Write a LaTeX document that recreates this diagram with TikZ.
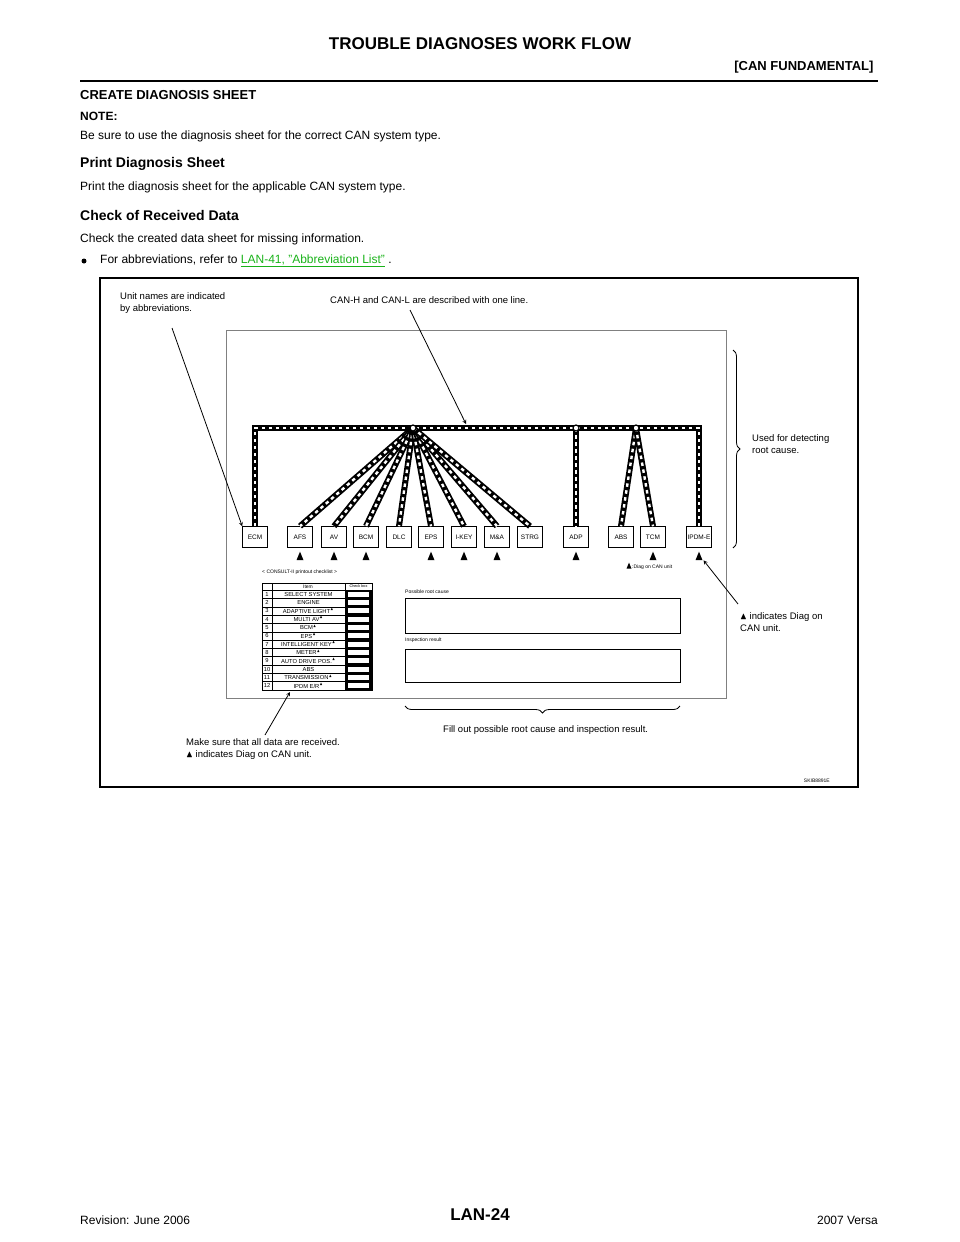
\documentclass[tikz,border=0pt]{standalone}
\usepackage{amssymb}
\usepackage{fontspec}
\setmainfont{Liberation Sans}
\usetikzlibrary{decorations.pathreplacing}
\definecolor{linkgreen}{rgb}{0.1,0.7,0.1}
\tikzset{
  canbus/.style={line width=6pt,draw=black,postaction={draw=white,line width=2.4pt,dash pattern=on 3.5pt off 3.5pt}},
  unit/.style={draw,line width=0.6pt,minimum width=25pt,minimum height=21pt,inner sep=0pt,font=\fontsize{6.5}{6.5}\selectfont},
  hub/.style={circle,draw,fill=white,line width=1.2pt,inner sep=0pt,minimum size=6pt},
  diag/.style={fill=black,isosceles triangle,shape border rotate=90,inner sep=0pt,minimum width=7pt,minimum height=6pt},
  note/.style={align=left,anchor=north west,font=\fontsize{9.5}{12}\selectfont,inner sep=0pt},
  tiny/.style={font=\fontsize{5}{5}\selectfont,inner sep=0pt},
  leader/.style={line width=0.8pt},
}
\usetikzlibrary{shapes.geometric}
\begin{document}
\begin{tikzpicture}[x=1pt,y=-1pt]
\useasboundingbox (0,0) rectangle (960,1242);
% header
\node[font=\bfseries\fontsize{17}{17}\selectfont] (title) at (480,44) {TROUBLE DIAGNOSES WORK FLOW};
\node[font=\bfseries\fontsize{13}{13}\selectfont,anchor=east] (sect) at (877,67) {[CAN FUNDAMENTAL]};
\draw[line width=2pt] (80,81) -- (878,81);
\node[anchor=west,inner sep=0pt,font=\bfseries\fontsize{13}{13}\selectfont] at (80,95) {CREATE DIAGNOSIS SHEET};
\node[anchor=west,inner sep=0pt,font=\bfseries\fontsize{12}{12}\selectfont] at (80,116) {NOTE:};
\node[anchor=west,inner sep=0pt,font=\fontsize{12}{12}\selectfont] at (80,136) {Be sure to use the diagnosis sheet for the correct CAN system type.};
\node[anchor=west,inner sep=0pt,font=\bfseries\fontsize{14}{14}\selectfont] at (80,164) {Print Diagnosis Sheet};
\node[anchor=west,inner sep=0pt,font=\fontsize{12}{12}\selectfont] at (80,187) {Print the diagnosis sheet for the applicable CAN system type.};
\node[anchor=west,inner sep=0pt,font=\bfseries\fontsize{14}{14}\selectfont] at (80,215) {Check of Received Data};
\node[anchor=west,inner sep=0pt,font=\fontsize{12}{12}\selectfont] at (80,239) {Check the created data sheet for missing information.};
\fill (84,261) circle (2.5pt);
\node[anchor=west,inner sep=0pt,font=\fontsize{12}{12}\selectfont] at (100,261) {For abbreviations, refer to \textcolor{linkgreen}{\underline{LAN-41, "Abbreviation List"}} .};
% figure frame
\draw[line width=1.2pt] (100,278) rectangle (858,787);
\draw[line width=0.4pt,gray] (226,330) rectangle (726,698);
% units
\foreach \n/\x in {ECM/255,AFS/300,AV/334,BCM/366,DLC/399,EPS/431,IKEY/464,MA/497,STRG/530,ADP/576,ABS/621,TCM/653,IPDM/699}
  \node[unit] (\n) at (\x,537) {};
\foreach \n/\t in {ECM/ECM,AFS/AFS,AV/AV,BCM/BCM,DLC/DLC,EPS/EPS,IKEY/I-KEY,MA/M\&A,STRG/STRG,ADP/ADP,ABS/ABS,TCM/TCM,IPDM/IPDM-E}
  \node[font=\fontsize{6.5}{6.5}\selectfont,inner sep=0pt] at (\n) {\t};
% bus
\coordinate (lt) at (255,428);
\coordinate (rt) at (699,428);
\coordinate (h1) at (413,428);
\coordinate (h2) at (576,428);
\coordinate (h3) at (636,428);
\draw[canbus] (ECM.north) -- (lt) -- (rt) -- (IPDM.north);
\foreach \n in {AFS,AV,BCM,DLC,EPS,IKEY,MA,STRG}
  \draw[canbus] (h1) -- (\n.north);
\draw[canbus] (h2) -- (ADP.north);
\draw[canbus] (h3) -- (ABS.north);
\draw[canbus] (h3) -- (TCM.north);
\foreach \h in {h1,h2,h3} \node[hub] at (\h) {};
\foreach \n in {AFS,AV,BCM,EPS,IKEY,MA,ADP,TCM,IPDM}
  \node[diag] (d\n) at ([yshift=-10pt]\n.south) {};
\node[tiny,anchor=west] (chk) at (262,572) {< CONSULT-II printout checklist >};
\node[diag,minimum width=5pt,minimum height=4.5pt] (dleg) at (629,567) {};
\node[tiny,anchor=west] at (632,567) {:Diag on CAN unit};
% checklist table
\draw[line width=0.4pt] (262,583) rectangle (372,690);
\draw[line width=0.4pt] (262,590) -- (345,590);
\draw[line width=0.4pt] (272,583) -- (272,690);
\fill (345,590) rectangle (372,690);
\draw[line width=0.4pt] (345,583) -- (345,590);
\node[tiny] at (308,586.5) {Item};
\node[tiny,font=\fontsize{3.8}{4}\selectfont] at (358.5,586.5) {Check box};
\foreach \t [count=\i] in {SELECT SYSTEM,ENGINE,ADAPTIVE LIGHT$^\blacktriangle$,MULTI AV$^\blacktriangle$,BCM$^\blacktriangle$,EPS$^\blacktriangle$,INTELLIGENT KEY$^\blacktriangle$,METER$^\blacktriangle$,AUTO DRIVE POS.$^\blacktriangle$,ABS,TRANSMISSION$^\blacktriangle$,IPDM E/R$^\blacktriangle$}{
  \pgfmathsetmacro\yy{590+(\i-0.5)*8.33}
  \node[tiny,font=\fontsize{5.8}{5}\selectfont] at (267,\yy) {\i};
  \node[tiny,font=\fontsize{5.8}{5}\selectfont] at (308.5,\yy) {\t};
  \fill[white] (348,\yy-2.4) rectangle (369,\yy+2.4);
  \draw[line width=0.3pt] (262,\yy+4.165) -- (345,\yy+4.165);
}
% result boxes
\node[tiny,anchor=west] at (405,592) {Possible root cause};
\node[draw,line width=0.6pt,minimum width=275pt,minimum height=35pt,anchor=north west] (cause) at (405,598) {};
\node[tiny,anchor=west] at (405,640) {Inspection result};
\node[draw,line width=0.6pt,minimum width=275pt,minimum height=33pt,anchor=north west] (result) at (405,649) {};
% braces
\draw[line width=0.8pt,decorate,decoration={brace,amplitude=7pt}] (733,350) -- (733,548);
\draw[line width=0.8pt,decorate,decoration={brace,amplitude=7pt,mirror}] (405,706) -- (680,706);
\node[note] (used) at (752,434) {Used for detecting\\root cause.};
\node[note] (fill) at (443,725) {Fill out possible root cause and inspection result.};
% callouts
\node[note] (abbr) at (120,292) {Unit names are indicated\\by abbreviations.};
\node[note] (oneline) at (330,296) {CAN-H and CAN-L are described with one line.};
\node[note] (diagnote) at (740,612) {$\blacktriangle$ indicates Diag on\\CAN unit.};
\node[note] (recv) at (186,738) {Make sure that all data are received.\\$\blacktriangle$ indicates Diag on CAN unit.};
\coordinate (abbrS) at (172,328);
\coordinate (onelineS) at (410,310);
\coordinate (diagS) at (738,604);
\coordinate (recvS) at (265,735);
\draw[leader,-stealth] (abbrS) -- (ECM.north west);
\draw[leader,-stealth] (onelineS) -- (466,424);
\draw[leader,-stealth] (diagS) -- ([xshift=2pt]dIPDM.south east);
\draw[leader,-stealth] (recvS) -- (290,692);
\node[tiny,anchor=east] at (830,781) {SKIB8891E};
% footer
\node[anchor=west,inner sep=0pt,font=\fontsize{12}{12}\selectfont] at (80,1220) {Revision: June 2006};
\node[font=\bfseries\fontsize{17}{17}\selectfont] at (480,1215) {LAN-24};
\node[anchor=east,inner sep=0pt,font=\fontsize{12}{12}\selectfont] at (878,1220) {2007 Versa};
\end{tikzpicture}
\end{document}
